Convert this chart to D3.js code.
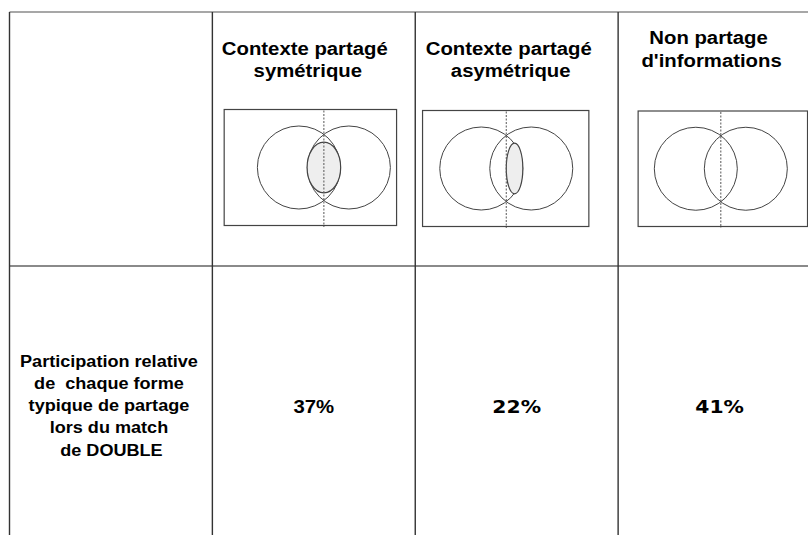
<!DOCTYPE html>
<html>
<head>
<meta charset="utf-8">
<script src="https://cdn.jsdelivr.net/npm/d3@7"></script>
<style>
  html, body { margin: 0; padding: 0; background: #fff; }
  svg { display: block; }
</style>
</head>
<body>
<div id="chart"></div>
<script>
// data
const columns = ["label", "sym", "asym", "none"];
const headerLines = [
  [],
  ["Contexte partagé", "symétrique"],
  ["Contexte partagé", "asymétrique"],
  ["Non partage", "d'informations"]
];
const shareValues = [null, 37, 22, 41];
const rowLabel = ["Participation relative", "de  chaque forme", "typique de partage", "lors du match", " de DOUBLE"];
// shape of the shared area in each diagram
const sharedShape = [null, "sym", "asym", null];

const W = 808, H = 535;
const stretch = 1.13;   // the source picture is a bit wider than tall

const svg = d3.select("#chart").append("svg")
  .attr("width", W).attr("height", H);

const x = d3.scaleBand().domain(columns).range([9.5, 821]);
const tableTop = 12, rowLine = 266;

// diagram layout per column: rect left/right, divider, relative to column start
const diag = {
  sym:  { x0: 11.8, x1: 184.2, mid: 111.5, y0: 109.5, y1: 225.5 },
  asym: { x0: 7.3,  x1: 173.6, mid: 91,    y0: 110.5, y1: 226.5 },
  none: { x0: 20,   x1: 189.4, mid: 102.7, y0: 111,   y1: 226.5 }
};
const headBase = { sym: [55, 77], asym: [55, 77], none: [44, 67] };
const headDx = { sym: [-9, -6], asym: [-8, -6], none: [-11, -8] };

// grid
const grid = svg.append("g");
grid.append("line").attr("x1", 9.5).attr("x2", W).attr("y1", tableTop).attr("y2", tableTop)
  .attr("stroke", "#8a8a8a").attr("stroke-width", 1.6);
grid.append("line").attr("x1", 9.5).attr("x2", W).attr("y1", rowLine).attr("y2", rowLine)
  .attr("stroke", "#8a8a8a").attr("stroke-width", 2);
grid.selectAll("line.col").data(columns).join("line")
  .attr("class", "col")
  .attr("x1", d => x(d)).attr("x2", d => x(d))
  .attr("y1", tableTop).attr("y2", H)
  .attr("stroke", "#333").attr("stroke-width", 1.4);

function stretchedText(g, str, cx, y, size, family) {
  return g.append("text")
    .attr("transform", `translate(${cx},${y}) scale(${stretch},1)`)
    .attr("text-anchor", "middle")
    .attr("font-family", family)
    .attr("font-weight", "bold")
    .attr("font-size", size)
    .attr("fill", "#000")
    .style("white-space", "pre")
    .text(str);
}

// headers + diagrams
columns.forEach((c, i) => {
  if (i === 0) return;
  const cx = x(c) + x.bandwidth() / 2;
  const g = svg.append("g");
  headerLines[i].forEach((ln, j) => {
    stretchedText(g, ln, cx + headDx[c][j], headBase[c][j], 18, "'Liberation Sans', Arial, sans-serif");
  });

  const d = diag[c];
  const left = x(c);
  const mx = left + d.mid;
  const cy = (d.y0 + d.y1) / 2;
  const r = 41.5, half = 25;

  g.append("rect")
    .attr("x", left + d.x0).attr("y", d.y0)
    .attr("width", d.x1 - d.x0).attr("height", d.y1 - d.y0)
    .attr("fill", "none").attr("stroke", "#444").attr("stroke-width", 1.2);

  g.selectAll("circle.set").data([-half, half]).join("circle")
    .attr("class", "set")
    .attr("cx", o => mx + o).attr("cy", cy).attr("r", r)
    .attr("fill", "none").attr("stroke", "#444").attr("stroke-width", 1);

  if (sharedShape[i] === "sym") {
    g.append("ellipse").attr("cx", mx).attr("cy", cy).attr("rx", 16.8).attr("ry", 25.3)
      .attr("fill", "#eeeeee").attr("stroke", "#444").attr("stroke-width", 1.2);
  } else if (sharedShape[i] === "asym") {
    g.append("ellipse").attr("cx", mx + 8.3).attr("cy", cy).attr("rx", 8.3).attr("ry", 25.3)
      .attr("fill", "#eeeeee").attr("stroke", "#444").attr("stroke-width", 1.2);
  }

  g.append("line")
    .attr("x1", mx).attr("x2", mx).attr("y1", d.y0 + 1).attr("y2", d.y1 + 1.5)
    .attr("stroke", "#555").attr("stroke-width", 1).attr("stroke-dasharray", "2,1.5");
});

// bottom row
const lab = svg.append("g");
const labCx = x("label") + x.bandwidth() / 2 - 2;
rowLabel.forEach((ln, j) => {
  stretchedText(lab, ln, labCx, 366.7 + j * 22.25, 16, "'Liberation Sans', Arial, sans-serif");
});

const pctFont = ["", "'Liberation Sans', Arial, sans-serif", "'DejaVu Sans', sans-serif", "'DejaVu Sans', sans-serif"];
columns.forEach((c, i) => {
  if (shareValues[i] == null) return;
  const cx = x(c) + x.bandwidth() / 2;
  stretchedText(lab, shareValues[i] + "%", cx, 413.3, 18, pctFont[i]);
});
</script>
</body>
</html>
